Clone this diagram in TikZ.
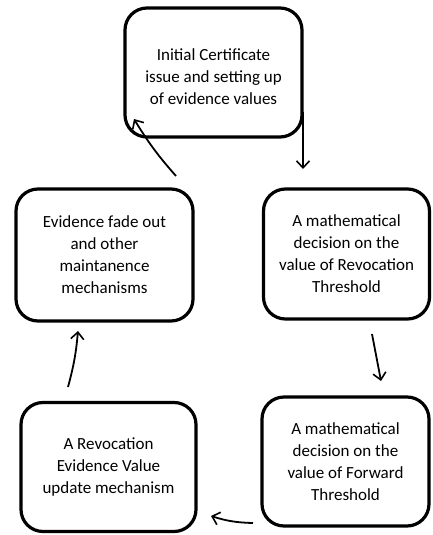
\documentclass[tikz,border=0pt]{standalone}
\usepackage{fontspec}
\setmainfont{Carlito}
\usetikzlibrary{arrows.meta}
\begin{document}
\begin{tikzpicture}[x=1pt,y=-1pt,
  box/.style={draw=black, line width=3.2pt, rounded corners=22pt, align=center,
    font=\fontsize{17}{22}\selectfont, inner sep=0pt},
  flow/.style={draw=black, line width=1.8pt, -{Straight Barb[length=7pt,width=13pt,line width=1.6pt]}}]
\useasboundingbox[fill=white] (0,0) rectangle (432,535);
\node[box, minimum width=177pt, minimum height=129pt] (top) at (213.5,72.5) {};
\node[align=center, font=\fontsize{17}{22}\selectfont, inner sep=0pt] (toptext) at (213.5,77)
  {Initial Certificate\\issue and setting up\\of evidence values};
\node[box, minimum width=177pt, minimum height=132pt] (lm) at (104.5,255)
  {Evidence fade out\\and other\\maintanence\\mechanisms};
\node[box, minimum width=166pt, minimum height=130pt] (rm) at (346.5,254)
  {A mathematical\\decision on the\\value of Revocation\\Threshold};
\node[box, minimum width=175pt, minimum height=129pt] (bl) at (108.5,467)
  {A Revocation\\Evidence Value\\update mechanism};
\node[box, minimum width=167pt, minimum height=129pt] (br) at (345.5,461.5)
  {A mathematical\\decision on the\\value of Forward\\Threshold};
\coordinate (a1s) at (303,112); \coordinate (a1e) at (303,169);
\coordinate (a2s) at (372,334); \coordinate (a2e) at (381,381);
\coordinate (a3s) at (253,523); \coordinate (a3e) at (211,516);
\coordinate (a4s) at (68,387);  \coordinate (a4e) at (78,331);
\coordinate (a5s) at (176,176); \coordinate (a5e) at (134,119);
\draw[flow] (a1s) -- (a1e);
\draw[flow] (a2s) -- (a2e);
\draw[flow] (a3s) to[bend left=8] (a3e);
\draw[flow] (a4s) to[bend right=5] (a4e);
\draw[flow] (a5s) to[bend left=5] (a5e);
\end{tikzpicture}
\end{document}
